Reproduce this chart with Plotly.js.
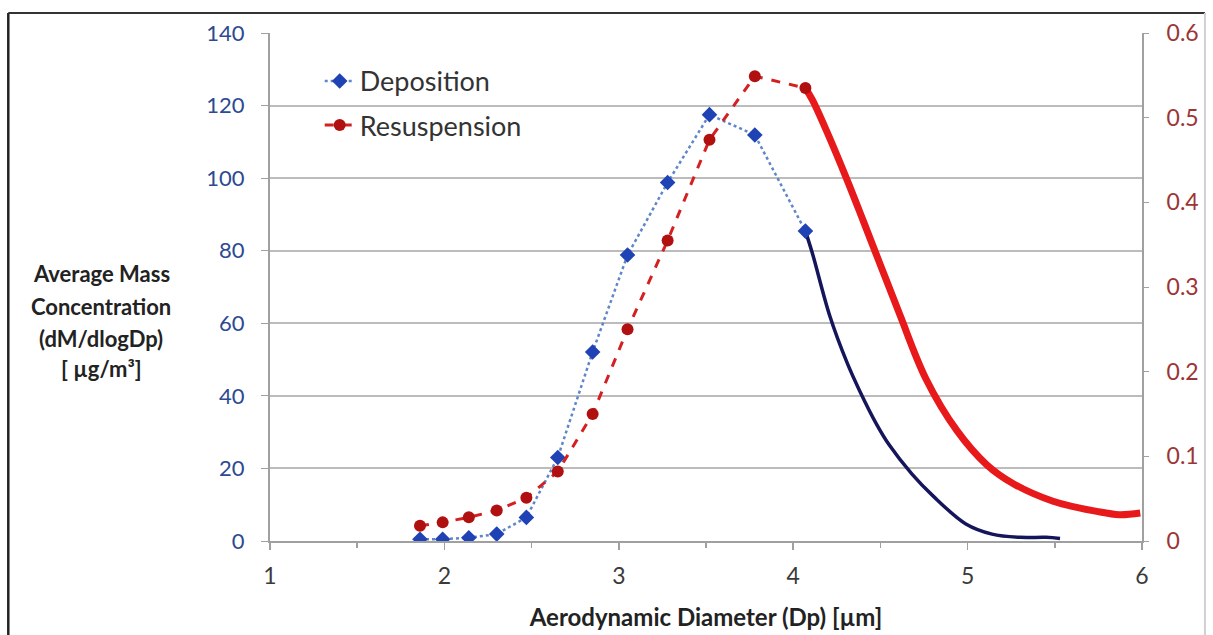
<!DOCTYPE html>
<html>
<head>
<meta charset="utf-8">
<script src="https://cdn.plot.ly/plotly-3.0.1.min.js"></script>
<style>
html,body{margin:0;padding:0;background:#fff;}
#chart{width:1213px;height:635px;}
</style>
</head>
<body>
<div id="chart"></div>
<script>
// Measured points (Dp in µm)
const dpPoints = [1.86, 1.99, 2.14, 2.30, 2.47, 2.65, 2.85, 3.05, 3.28, 3.52, 3.78, 4.07];
const deposition = [0.5, 0.5, 0.9, 1.9, 6.5, 23.0, 52.1, 78.8, 98.8, 117.5, 111.9, 85.4];
const resuspension = [0.018, 0.022, 0.028, 0.036, 0.051, 0.082, 0.150, 0.250, 0.355, 0.474, 0.549, 0.535];

// Fitted tails (solid curves)
const depFitX = [4.07, 4.11, 4.21, 4.31, 4.38, 4.48, 4.55, 4.68, 4.80, 4.99, 5.14, 5.30, 5.45, 5.53];
const depFitY = [85.4, 79.3, 62.0, 49.0, 41.5, 32.0, 26.5, 18.5, 12.5, 4.7, 1.9, 1.0, 1.0, 0.7];
const resFitX = [4.07, 4.11, 4.19, 4.31, 4.40, 4.50, 4.61, 4.76, 4.94, 5.11, 5.26, 5.49, 5.74, 5.87, 5.99];
const resFitY = [0.535, 0.521, 0.485, 0.426, 0.379, 0.326, 0.268, 0.192, 0.130, 0.090, 0.068, 0.047, 0.035, 0.031, 0.033];

const xTickVals = [1, 2, 3, 4, 5, 6];
const yLeftTicks = [0, 20, 40, 60, 80, 100, 120, 140];
const yRightTicks = [0, 0.1, 0.2, 0.3, 0.4, 0.5, 0.6];
const yTitleLines = ['Average Mass', 'Concentration', '(dM/dlogDp)', '[ µg/m³]'];

const FONT = 'Lato, "Open Sans", sans-serif';

const traces = [
  {x: depFitX, y: depFitY, type: 'scatter', mode: 'lines', yaxis: 'y',
   line: {color: '#15155c', width: 3.5, shape: 'spline'}, showlegend: false, hoverinfo: 'skip'},
  {x: resFitX, y: resFitY, type: 'scatter', mode: 'lines', yaxis: 'y2',
   line: {color: '#e8191a', width: 7, shape: 'spline'}, showlegend: false, hoverinfo: 'skip'},
  {x: dpPoints, y: deposition, type: 'scatter', mode: 'lines+markers', name: 'Deposition', yaxis: 'y',
   legendgroup: 'a',
   line: {color: '#5f86c9', width: 2.5, dash: 'dot'},
   marker: {symbol: 'diamond', size: 12, color: '#1f43b5'}},
  {x: dpPoints, y: resuspension, type: 'scatter', mode: 'lines+markers', name: 'Resuspension', yaxis: 'y2',
   legendgroup: 'b',
   line: {color: '#d42020', width: 3, dash: 'dash'},
   marker: {symbol: 'circle', size: 12, color: '#b01010'}}
];

const yTitleY = [273, 306, 338, 368];
const annotations = yTitleLines.map((t, i) => ({
  text: '<b>' + t + '</b>', xref: 'paper', yref: 'paper', xanchor: 'center', yanchor: 'middle',
  x: (101 - 270) / 873, y: 1 - (yTitleY[i] - 33) / 508,
  showarrow: false, font: {family: FONT, size: 22, color: '#222'}
}));

const layout = {
  width: 1213, height: 635,
  margin: {l: 270, r: 71, t: 33, b: 94},
  paper_bgcolor: '#fff', plot_bgcolor: '#fff',
  font: {family: FONT, size: 22, color: '#333'},
  showlegend: true,
  legend: {x: 0.057, y: 0.953, xanchor: 'left', yanchor: 'top', bgcolor: 'rgba(0,0,0,0)',
           font: {family: FONT, size: 27, color: '#333'}, traceorder: 'grouped', tracegroupgap: 6},
  xaxis: {range: [1, 6], tickvals: xTickVals, ticktext: xTickVals.map(String),
          showgrid: false, zeroline: false, showline: true, linecolor: '#a0a0a0', linewidth: 2,
          ticks: 'outside', ticklen: 7, tickcolor: '#a0a0a0', tickwidth: 1.5,
          minor: {dtick: 0.5, ticks: 'outside', ticklen: 5, tickcolor: '#a0a0a0', showgrid: false},
          tickfont: {family: FONT, size: 23, color: '#3a3a3a'}, ticklabelstandoff: 6,
          title: {text: '<b>Aerodynamic Diameter (Dp) [µm]</b>', standoff: 22,
                  font: {family: FONT, size: 24, color: '#222'}}},
  yaxis: {range: [0, 140], tickvals: yLeftTicks, showgrid: true, gridcolor: '#bcbcbc', gridwidth: 2,
          zeroline: false, showline: true, linecolor: '#a0a0a0', linewidth: 2,
          ticks: 'outside', ticklen: 7, tickcolor: '#a0a0a0',
          tickfont: {family: FONT, size: 22, color: '#2d4a92'}, ticklabelstandoff: 12},
  yaxis2: {range: [0, 0.6], tickvals: yRightTicks, ticktext: yRightTicks.map(String),
           overlaying: 'y', side: 'right', showgrid: false, zeroline: false,
           showline: true, linecolor: '#a0a0a0', linewidth: 2,
           ticks: 'outside', ticklen: 5, tickcolor: '#a0a0a0',
           tickfont: {family: FONT, size: 23, color: '#9c3535'}, ticklabelstandoff: 13},
  annotations: annotations,
  shapes: [
    {type: 'line', xref: 'paper', yref: 'paper', x0: (8 - 270) / 873, x1: (8 - 270) / 873,
     y0: 1 + (33 - 13) / 508, y1: -0.3, line: {color: '#222', width: 2.5}},
    {type: 'line', xref: 'paper', yref: 'paper', x0: (8 - 270) / 873, x1: (1206 - 270) / 873,
     y0: 1 + (33 - 13) / 508, y1: 1 + (33 - 13) / 508, line: {color: '#333', width: 2}},
    {type: 'line', xref: 'paper', yref: 'paper', x0: (1206 - 270) / 873, x1: (1206 - 270) / 873,
     y0: 1 + (33 - 13) / 508, y1: -0.3, line: {color: '#d0d0d0', width: 2}}
  ]
};

Plotly.newPlot('chart', traces, layout, {displayModeBar: false, staticPlot: true});
</script>
</body>
</html>
